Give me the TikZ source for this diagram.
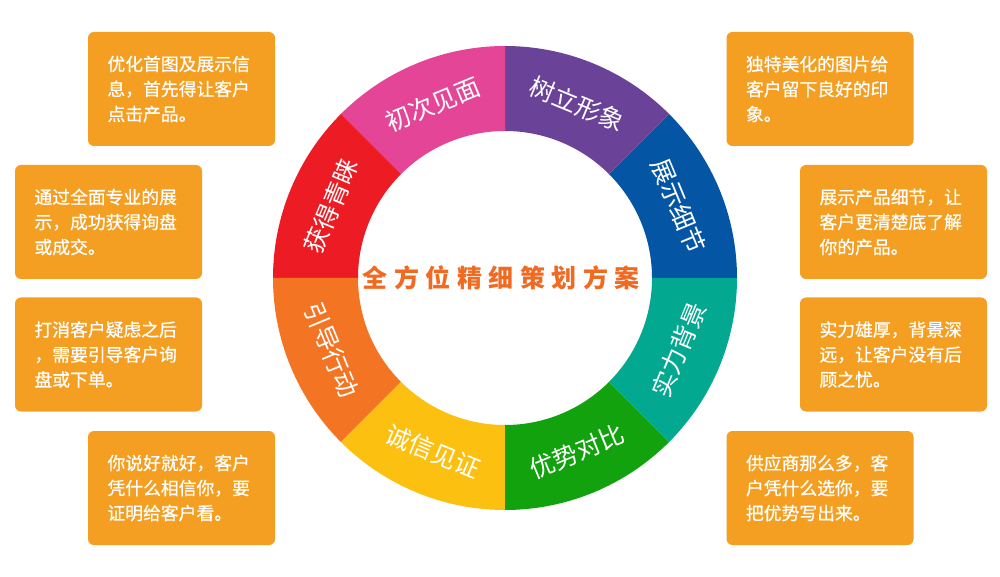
\documentclass[tikz,border=0pt]{standalone}
\usepackage{fontspec}
\usepackage{xcolor}
\usepackage{tikz}
\usetikzlibrary{positioning}
\newfontfamily\cjk{Noto Sans CJK SC}
\newfontfamily\cjkbox[FakeBold=0.7]{Noto Sans CJK SC}

\definecolor{segblue}{HTML}{0455A4}
\definecolor{segpurple}{HTML}{6A4398}
\definecolor{segpink}{HTML}{E44597}
\definecolor{segred}{HTML}{ED1C24}
\definecolor{segorange}{HTML}{F37524}
\definecolor{segyellow}{HTML}{FCC010}
\definecolor{seggreen}{HTML}{12A20E}
\definecolor{segteal}{HTML}{02A88F}
\definecolor{boxorange}{HTML}{F49E22}
\definecolor{titleorange}{HTML}{F06A22}

\begin{document}
\begin{tikzpicture}[x=1pt,y=1pt,
    infobox/.style={fill=boxorange, rounded corners=6pt, minimum width=187pt, minimum height=114pt,
        text width=148pt, align=left, text=white, font=\cjkbox\fontsize{17.8pt}{25pt}\selectfont},
    seglabel/.style={text=white, font=\cjk\fontsize{25pt}{25pt}\selectfont, inner sep=0pt},
    titlechar/.style={text=titleorange, font=\cjk\bfseries\fontsize{25pt}{25pt}\selectfont, inner sep=0pt}]
    \useasboundingbox (0,0) rectangle (1000,576);

    % Ring of eight steps
    \begin{scope}[shift={(505,298)}]
        \foreach \a/\col/\lab/\rot [count=\i] in {0/segblue/展示细节/-67.5, 45/segpurple/树立形象/-22.5,
            90/segpink/初次见面/22.5, 135/segred/获得青睐/67.5, 180/segorange/引导行动/-67.5,
            225/segyellow/诚信见证/-22.5, 270/seggreen/优势对比/22.5, 315/segteal/实力背景/67.5}
        {
            \fill[\col] (\a:232pt) arc[start angle=\a, end angle=\a+45, radius=232pt]
                -- (\a+45:147pt) arc[start angle=\a+45, end angle=\a, radius=147pt] -- cycle;
            \node[seglabel, rotate=\rot] (s\i) at (\a+22.5:188pt) {\lab};
        }
    \end{scope}

    % Title
    \foreach \c [count=\i] in {全,方,位,精,细,策,划,方,案}
        \node[titlechar] (t\i) at (375+\i*31.5-31.5, 298) {\c};

    % Left boxes
    \node[infobox] (b1) at (181.5,487) {优化首图及展示信\\息，首先得让客户\\点击产品。};
    \node[infobox] (b2) at (108.5,354) {通过全面专业的展\\示，成功获得询盘\\或成交。};
    \node[infobox] (b3) at (108.5,221.5) {打消客户疑虑之后\\，需要引导客户询\\盘或下单。};
    \node[infobox] (b4) at (181.5,88) {你说好就好，客户\\凭什么相信你，要\\证明给客户看。};

    % Right boxes
    \node[infobox] (b5) at (820,487) {独特美化的图片给\\客户留下良好的印\\象。};
    \node[infobox] (b6) at (893.5,354) {展示产品细节，让\\客户更清楚底了解\\你的产品。};
    \node[infobox] (b7) at (893.5,221.5) {实力雄厚，背景深\\远，让客户没有后\\顾之忧。};
    \node[infobox] (b8) at (820,88) {供应商那么多，客\\户凭什么选你，要\\把优势写出来。};
\end{tikzpicture}
\end{document}
